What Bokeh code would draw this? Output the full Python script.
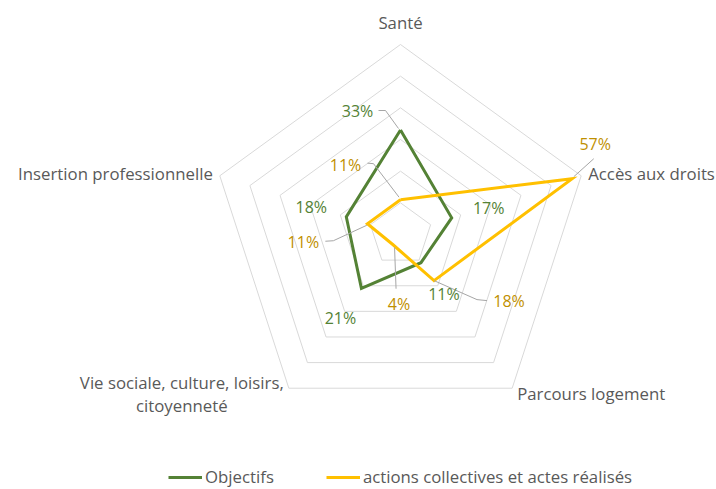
import math
from bokeh.plotting import figure
from bokeh.models import ColumnDataSource, Legend, LegendItem, Range1d
from bokeh.embed import file_html
from bokeh.resources import INLINE
from bokeh.core.properties import value

# ---------------- data ----------------
categories = ["Santé", "Accès aux droits", "Parcours logement",
              "Vie sociale, culture, loisirs,\ncitoyenneté", "Insertion professionnelle"]
objectifs = [33, 17, 11, 21, 18]
actions = [11, 57, 18, 4, 11]
series_names = ["Objectifs", "actions collectives et actes réalisés"]
grid_levels = [10, 20, 30, 40, 50, 60]

# ---------------- layout ----------------
W, H = 716, 489
CX, CY = 400, 234          # radar centre in canvas pixels
R_PX = 190                 # radius of outer ring in pixels
R_MAX = grid_levels[-1]
S = R_PX / R_MAX           # pixels per percent

FONT_NAME = "Open Sans"
FONT = value(FONT_NAME)
GREEN, YELLOW = "#548235", "#FFC000"
GREEN_TXT, YELLOW_TXT = "#548235", "#BF9000"
GREY_TXT, GRID = "#595959", "#D9D9D9"
LEADER = "#A6A6A6"

# label offsets (pixels, y downward) relative to each data point
obj_lab_off = [(-43, -19), (37, -10), (23, 31), (-21, 30), (-35, -10)]
act_lab_off = [(-55, -35), (23, -35), (75, 20), (6, 59), (-64, 18)]
# leader lines (pixel offsets relative to data point); None = no leader
obj_leaders = [[(-22, -19.5), (-15, -19.5), (-2, -1.5)], None, None, None, None]
act_leaders = [[(-33, -36.5), (-27, -36), (-1.5, -2.5)],
               [(21.6, -20), (1.6, -2)],
               [(53, 20), (43, 19), (0, 0)],
               [(3, 44), (1.5, 2.5)],
               [(-42, 17.5), (-34, 17), (-0.5, 1.5)]]
# category label offsets relative to outer vertex, with alignment
cat_off = [(0, -22, "center"), (7, -2, "left"), (5, 5, "left"),
           (-107, 6, "center"), (-7, -2, "right")]

n = len(categories)


def ang(i):
    return math.radians(90 - 360.0 / n * i)


def pt(v, i):
    return v * math.cos(ang(i)), v * math.sin(ang(i))


def shift(x, y, dx, dy):
    return x + dx / S, y - dy / S


p = figure(width=W, height=H, output_backend="svg", toolbar_location=None,
           x_range=Range1d(-CX / S, (W - CX) / S),
           y_range=Range1d(-(H - CY) / S, CY / S),
           x_axis_type=None, y_axis_type=None, min_border=0,
           outline_line_color=None, background_fill_color="white")

# grid rings
gx, gy = [], []
for lv in grid_levels:
    xs = [pt(lv, i)[0] for i in range(n)]
    ys = [pt(lv, i)[1] for i in range(n)]
    gx.append(xs + xs[:1])
    gy.append(ys + ys[:1])
p.multi_line(gx, gy, line_color=GRID, line_width=1)

# series
renderers = []
for vals, col in [(objectifs, GREEN), (actions, YELLOW)]:
    xs = [pt(v, i)[0] for i, v in enumerate(vals)]
    ys = [pt(v, i)[1] for i, v in enumerate(vals)]
    r = p.line(xs + xs[:1], ys + ys[:1], line_color=col, line_width=3,
               line_join="miter")
    renderers.append(r)

# leader lines
lx, ly = [], []
for vals, leaders in [(objectifs, obj_leaders), (actions, act_leaders)]:
    for i, v in enumerate(vals):
        if leaders[i] is None:
            continue
        x0, y0 = pt(v, i)
        pts = [shift(x0, y0, dx, dy) for dx, dy in leaders[i]]
        lx.append([q[0] for q in pts])
        ly.append([q[1] for q in pts])
p.multi_line(lx, ly, line_color=LEADER, line_width=1)

# value labels
for vals, offs, col in [(objectifs, obj_lab_off, GREEN_TXT), (actions, act_lab_off, YELLOW_TXT)]:
    xs, ys, tx = [], [], []
    for i, v in enumerate(vals):
        x0, y0 = pt(v, i)
        x1, y1 = shift(x0, y0, *offs[i])
        xs.append(x1)
        ys.append(y1)
        tx.append(f"{v}%")
    src = ColumnDataSource(dict(x=xs, y=ys, t=tx))
    p.text("x", "y", text="t", source=src, text_font=FONT, text_font_size="16px",
           text_color=col, text_align="center", text_baseline="middle")

# category labels
for i, c in enumerate(categories):
    x0, y0 = pt(R_MAX, i)
    dx, dy, al = cat_off[i]
    x1, y1 = shift(x0, y0, dx, dy)
    p.text([x1], [y1], text=[c], text_font=FONT, text_font_size="16.8px",
           text_color=GREY_TXT, text_align=al, text_baseline="middle",
           text_line_height=1.0)

legend = Legend(items=[LegendItem(label=series_names[0], renderers=[renderers[0]]),
                       LegendItem(label=series_names[1], renderers=[renderers[1]])],
                orientation="horizontal", location=(168, 1),
                glyph_width=34, glyph_height=16, label_height=16,
                label_standoff=3, spacing=52, padding=0, margin=0,
                border_line_alpha=0, background_fill_alpha=0,
                label_text_font=FONT_NAME, label_text_font_size="16.8px",
                label_text_color=GREY_TXT)
p.add_layout(legend)

open("out.html", "w").write(file_html(p, INLINE))
